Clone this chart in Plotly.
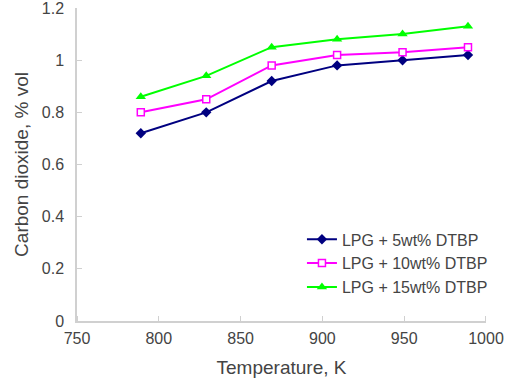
import plotly.graph_objects as go

temperature = [789, 829, 869, 909, 949, 989]
dtbp5 = [0.72, 0.80, 0.92, 0.98, 1.00, 1.02]
dtbp10 = [0.80, 0.85, 0.98, 1.02, 1.03, 1.05]
dtbp15 = [0.86, 0.94, 1.05, 1.08, 1.10, 1.13]
names = ["LPG + 5wt% DTBP", "LPG + 10wt% DTBP", "LPG + 15wt% DTBP"]
xticks = [750, 800, 850, 900, 950, 1000]

fig = go.Figure()
fig.add_trace(go.Scatter(x=temperature, y=dtbp5, name=names[0], mode="lines+markers",
                         line=dict(color="#000080", width=2),
                         marker=dict(symbol="diamond", size=8, color="#000080")))
fig.add_trace(go.Scatter(x=temperature, y=dtbp10, name=names[1], mode="lines+markers",
                         line=dict(color="#FF00FF", width=2),
                         marker=dict(symbol="square", size=7, color="white",
                                     line=dict(color="#FF00FF", width=1.5))))
fig.add_trace(go.Scatter(x=temperature, y=dtbp15, name=names[2], mode="lines+markers",
                         line=dict(color="#00FF00", width=2),
                         marker=dict(symbol="triangle-up", size=9, color="#00FF00")))

font = dict(family="Liberation Sans, Arial, sans-serif", size=16, color="#444444")
fig.update_layout(
    width=510, height=379,
    margin=dict(l=77, r=24, t=8, b=58, autoexpand=False),
    paper_bgcolor="white", plot_bgcolor="white",
    font=font,
    showlegend=True,
    legend=dict(x=0.55, y=0.315, xanchor="left", yanchor="top",
                bgcolor="rgba(0,0,0,0)", font=dict(size=16, color="#444444"),
                tracegroupgap=0, itemwidth=30),
    xaxis=dict(range=[750, 1000.01], tickvals=xticks,
               showgrid=False, zeroline=False, showline=True, linecolor="#d0d0d0",
               linewidth=1.5, ticks="outside", ticklen=2, tickcolor="rgba(0,0,0,0)",
               minor=dict(tickmode="array", tickvals=xticks, ticks="inside", ticklen=5,
                          tickcolor="#d0d0d0", tickwidth=1, showgrid=False),
               automargin=False, ticklabeloverflow="allow",
               title=dict(text="Temperature, K", standoff=15)),
    yaxis=dict(range=[0, 1.2001], tickvals=[0, 0.2, 0.4, 0.6, 0.8, 1.0, 1.2],
               ticktext=["0", "0.2", "0.4", "0.6", "0.8", "1", "1.2"],
               showgrid=False, zeroline=False, showline=True, linecolor="#d0d0d0",
               linewidth=1.5, ticks="inside", ticklen=5, tickcolor="#d0d0d0",
               ticklabelstandoff=8, automargin=False, ticklabeloverflow="allow",
               title=dict(text="Carbon dioxide, % vol", standoff=8)),
)
fig.write_html("out.html")
